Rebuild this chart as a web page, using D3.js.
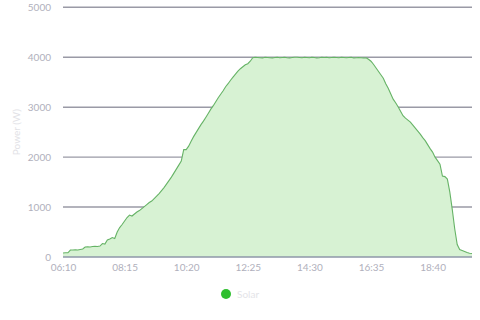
<!DOCTYPE html>
<html>
<head>
<meta charset="utf-8">
<script src="https://cdn.jsdelivr.net/npm/d3@7/dist/d3.min.js"></script>
<style>
html,body{margin:0;padding:0;background:#fff;}
svg{display:block;font-family:Lato, "Open Sans", sans-serif;}
</style>
</head>
<body>
<svg id="chart" width="480" height="320"></svg>
<script>
const startTime = "06:10";
const stepMinutes = 5;
const seriesName = "Solar";
const yTicks = [0, 1000, 2000, 3000, 4000, 5000];
const xTickLabels = ["06:10", "08:15", "10:20", "12:25", "14:30", "16:35", "18:40"];
const solar = [
  80, 85, 85, 140, 140, 145, 140, 150, 160, 200,
  205, 200, 210, 215, 210, 220, 270, 260, 340, 360,
  390, 370, 500, 590, 650, 720, 790, 840, 820, 860,
  900, 930, 970, 1010, 1050, 1090, 1120, 1170, 1220, 1270,
  1330, 1390, 1460, 1530, 1600, 1680, 1760, 1840, 1920, 2150,
  2150, 2220, 2320, 2410, 2490, 2570, 2650, 2720, 2800, 2880,
  2960, 3030, 3110, 3190, 3260, 3330, 3410, 3470, 3540, 3600,
  3660, 3720, 3770, 3810, 3850, 3870, 3920, 3990, 4000, 3995,
  3990, 3985, 4000, 3995, 3990, 3985, 3995, 4000, 3990, 3995,
  4000, 3990, 3985, 3995, 4000, 4000, 3995, 3990, 4000, 3995,
  3990, 4000, 3995, 3985, 3990, 4000, 3995, 4000, 3990, 3995,
  4000, 3995, 3990, 4000, 3995, 3990, 3995, 4000, 3985, 3990,
  3995, 3990, 3985, 3990, 3960, 3920, 3860, 3790, 3720, 3650,
  3580, 3470, 3380, 3270, 3160, 3090, 3010, 2920, 2830, 2780,
  2740, 2700, 2640, 2580, 2520, 2460, 2390, 2330, 2250, 2170,
  2100, 2000, 1930, 1860, 1620, 1610, 1560, 1300, 950, 560,
  250, 150, 130, 110, 90, 75, 70
];

const parseT = d3.timeParse("%H:%M");
const t0 = parseT(startTime);
const data = solar.map((v, i) => ({ t: d3.timeMinute.offset(t0, i * stepMinutes), v }));

const svg = d3.select("#chart");
const mLeft = 63, mRight = 472, mTop = 7.3, mBottom = 257;

const x = d3.scaleTime()
  .domain([data[0].t, data[data.length - 1].t])
  .range([mLeft, mRight]);
const y = d3.scaleLinear().domain([0, 5000]).range([mBottom, mTop]);

// grid lines
svg.append("g").selectAll("line")
  .data(yTicks.filter(d => d > 0))
  .join("line")
  .attr("x1", mLeft).attr("x2", mRight)
  .attr("y1", d => y(d)).attr("y2", d => y(d))
  .attr("stroke", "#9a9aa6").attr("stroke-width", 1.4);

// area + line
const area = d3.area().x(d => x(d.t)).y0(y(0)).y1(d => y(d.v));
const line = d3.line().x(d => x(d.t)).y(d => y(d.v));
svg.append("path").datum(data).attr("d", area).attr("fill", "#d7f2d3");
svg.append("path").datum(data).attr("d", line)
  .attr("fill", "none").attr("stroke", "#66b366").attr("stroke-width", 1.1);

// baseline
svg.append("line").attr("x1", mLeft).attr("x2", mRight)
  .attr("y1", y(0)).attr("y2", y(0))
  .attr("stroke", "#8e97a8").attr("stroke-width", 1.6);

// y axis labels
const yAxis = d3.axisLeft(y).tickValues(yTicks).tickFormat(d3.format("d")).tickSize(0).tickPadding(12);
const gy = svg.append("g").attr("transform", `translate(${mLeft},0)`).call(yAxis);
gy.select(".domain").remove();
gy.selectAll("text").attr("fill", "#b0b0bc").attr("font-size", 10)
  .attr("font-family", "Lato, 'Open Sans', sans-serif");

// x axis labels
const xTickVals = xTickLabels.map(s => parseT(s));
const xAxis = d3.axisBottom(x).tickValues(xTickVals).tickFormat(d3.timeFormat("%H:%M")).tickSize(0).tickPadding(7);
const gx = svg.append("g").attr("transform", `translate(0,${mBottom})`).call(xAxis);
gx.select(".domain").remove();
gx.selectAll("text").attr("fill", "#b0b0bc").attr("font-size", 10)
  .attr("font-family", "Lato, 'Open Sans', sans-serif");

// y title
svg.append("text")
  .attr("transform", `translate(20,${(mTop + mBottom) / 2}) rotate(-90)`)
  .attr("text-anchor", "middle")
  .attr("font-size", 10).attr("fill", "#e2e2e6")
  .text("Power (W)");

// legend
const lg = svg.append("g").attr("transform", "translate(226,294)");
lg.append("circle").attr("r", 5).attr("fill", "#2fbf2f");
lg.append("text").attr("x", 11).attr("dy", "0.35em")
  .attr("font-size", 10).attr("fill", "#e4e4e8").text(seriesName);
</script>
</body>
</html>
